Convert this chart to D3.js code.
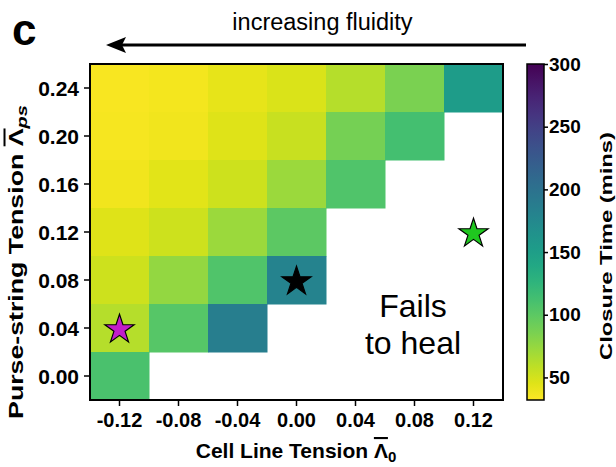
<!DOCTYPE html>
<html><head><meta charset="utf-8">
<script src="https://cdn.jsdelivr.net/npm/d3@7"></script>
<style>body{margin:0;background:#fff}svg{display:block;font-family:"Liberation Sans",Arial,sans-serif}</style>
</head><body><svg id="c" width="616" height="467"></svg>
<script>
const xCats = [-0.12, -0.08, -0.04, 0.00, 0.04, 0.08, 0.12];
const yCats = [0.00, 0.04, 0.08, 0.12, 0.16, 0.20, 0.24];
// closure time (mins), rows from y=0.24 down to y=0.00; null = fails to heal
const row024 = [35, 37, 42, 47, 62, 86, 153];
const row020 = [36, 38, 45, 55, 88, 112, null];
const row016 = [38, 44, 52, 72, 106, null, null];
const row012 = [45, 52, 72, 100, null, null, null];
const row008 = [52, 75, 106, 180, null, null, null];
const row004 = [62, 103, 186, null, null, null, null];
const row000 = [109, null, null, null, null, null, null];
const rows = [[0.24,row024],[0.20,row020],[0.16,row016],[0.12,row012],[0.08,row008],[0.04,row004],[0.00,row000]];
const stars = [{x:-0.12,y:0.04,c:"#c21ec9"},{x:0.00,y:0.08,c:"#000000"},{x:0.12,y:0.12,c:"#1fc71f"}];
const cbTicks = [50,100,150,200,250,300];
const cbDomain = [32, 300];

const svg = d3.select("#c");
const FONT = "Liberation Sans, Arial, sans-serif";
const L=90,R=503,T=64,B=400;
const fmt = d => d3.format(".2f")(d).replace("\u2212","-");
const x = d3.scaleBand().domain(xCats).range([L,R]).padding(0);
const y = d3.scaleBand().domain(yCats.slice().reverse()).range([T,B]).padding(0);
const color = v => d3.interpolateViridis(1 - (v-cbDomain[0])/(cbDomain[1]-cbDomain[0]));

const cells = [];
rows.forEach(([yv,arr]) => arr.forEach((v,i) => { if(v!=null) cells.push({x:xCats[i],y:yv,v}); }));
svg.append("g").selectAll("rect").data(cells).join("rect")
  .attr("x",d=>x(d.x)).attr("y",d=>y(d.y))
  .attr("width",x.bandwidth()+0.5).attr("height",y.bandwidth()+0.5)
  .attr("fill",d=>color(d.v));

// stars
const starPath = d3.symbol().type(d3.symbolStar).size(265)();
svg.append("g").selectAll("path").data(stars).join("path")
  .attr("d",starPath)
  .attr("transform",d=>`translate(${x(d.x)+x.bandwidth()/2},${y(d.y)+y.bandwidth()/2+1.5})`)
  .attr("fill",d=>d.c).attr("stroke","#000").attr("stroke-width",1.2);

// frame
svg.append("rect").attr("x",L).attr("y",T).attr("width",R-L).attr("height",B-T)
  .attr("fill","none").attr("stroke","#000").attr("stroke-width",2);

// axes
const xAx = svg.append("g").attr("transform",`translate(0,${B+1})`)
  .call(d3.axisBottom(x).tickFormat(fmt).tickSize(5).tickSizeOuter(0));
const yAx = svg.append("g").attr("transform",`translate(${L-1},0)`)
  .call(d3.axisLeft(y).tickFormat(fmt).tickSize(5).tickSizeOuter(0));
[xAx,yAx].forEach(g=>{
  g.select(".domain").remove();
  g.selectAll("line").attr("stroke","#000").attr("stroke-width",1.5);
  g.selectAll("text").attr("font-weight","bold").attr("fill","#000").attr("font-family",FONT);
});
xAx.selectAll("text").attr("font-size",20).attr("y",12);
yAx.selectAll("text").attr("font-size",21).attr("x",-10).attr("dy","0.36em");

// x label
const xl = svg.append("text").attr("x",296).attr("y",458).attr("text-anchor","middle")
  .attr("font-size",21).attr("font-weight","bold");
xl.append("tspan").text("Cell Line Tension ");
xl.append("tspan").attr("text-decoration","overline").text("Λ");
xl.append("tspan").attr("font-size",15).attr("dy",4).text("0");

// y label (stretched along its baseline like the reference)
const yl = svg.append("text").attr("text-anchor","middle")
  .attr("font-size",20).attr("font-weight","bold");
yl.append("tspan").text("Purse-string Tension ");
yl.append("tspan").attr("text-decoration","overline").text("Λ");
yl.append("tspan").attr("font-size",15).attr("dy",4).attr("font-style","italic").text("ps");
{
  const w = yl.node().getBBox().width;
  yl.attr("transform",`translate(23,262) rotate(-90) scale(${314/w},1)`);
}

// colorbar
const cbL=527,cbW=17,cbT=64,cbB=400;
const cy = d3.scaleLinear().domain(cbDomain).range([cbB,cbT]);
const defs = svg.append("defs");
const grad = defs.append("linearGradient").attr("id","g").attr("x1",0).attr("x2",0).attr("y1",1).attr("y2",0);
d3.range(0,1.0001,0.05).forEach(t=>grad.append("stop").attr("offset",t)
  .attr("stop-color",color(cbDomain[0]+t*(cbDomain[1]-cbDomain[0]))));
svg.append("rect").attr("x",cbL).attr("y",cbT).attr("width",cbW).attr("height",cbB-cbT)
  .attr("fill","url(#g)").attr("stroke","#000").attr("stroke-width",1.5);
const cAx = svg.append("g").attr("transform",`translate(${cbL+cbW},0)`)
  .call(d3.axisRight(cy).tickValues(cbTicks).tickSize(4));
cAx.select(".domain").remove();
cAx.selectAll("line").attr("stroke","#000").attr("stroke-width",1.5);
cAx.selectAll("text").attr("font-size",19).attr("font-weight","bold").attr("fill","#000")
  .attr("font-family",FONT).attr("x",5);
const cl = svg.append("text").attr("text-anchor","middle")
  .attr("font-size",17).attr("font-weight","bold").text("Closure Time (mins)");
{
  const w = cl.node().getBBox().width;
  cl.attr("transform",`translate(612,246) rotate(-90) scale(${228/w},1)`);
}

// annotations
svg.append("text").attr("x",12).attr("y",45).attr("font-size",44).attr("font-weight","bold").text("c");
svg.append("text").attr("x",322.5).attr("y",30).attr("text-anchor","middle").attr("font-size",23.5).text("increasing fluidity");
svg.append("line").attr("x1",526).attr("y1",45).attr("x2",120).attr("y2",45).attr("stroke","#000").attr("stroke-width",3);
svg.append("path").attr("d","M106,45 L126,37 L122,45 L126,53 Z").attr("fill","#000");
const fh = svg.append("text").attr("text-anchor","middle").attr("font-size",32);
fh.append("tspan").attr("x",413).attr("y",317).text("Fails");
fh.append("tspan").attr("x",413).attr("y",354).text("to heal");
</script></body></html>
